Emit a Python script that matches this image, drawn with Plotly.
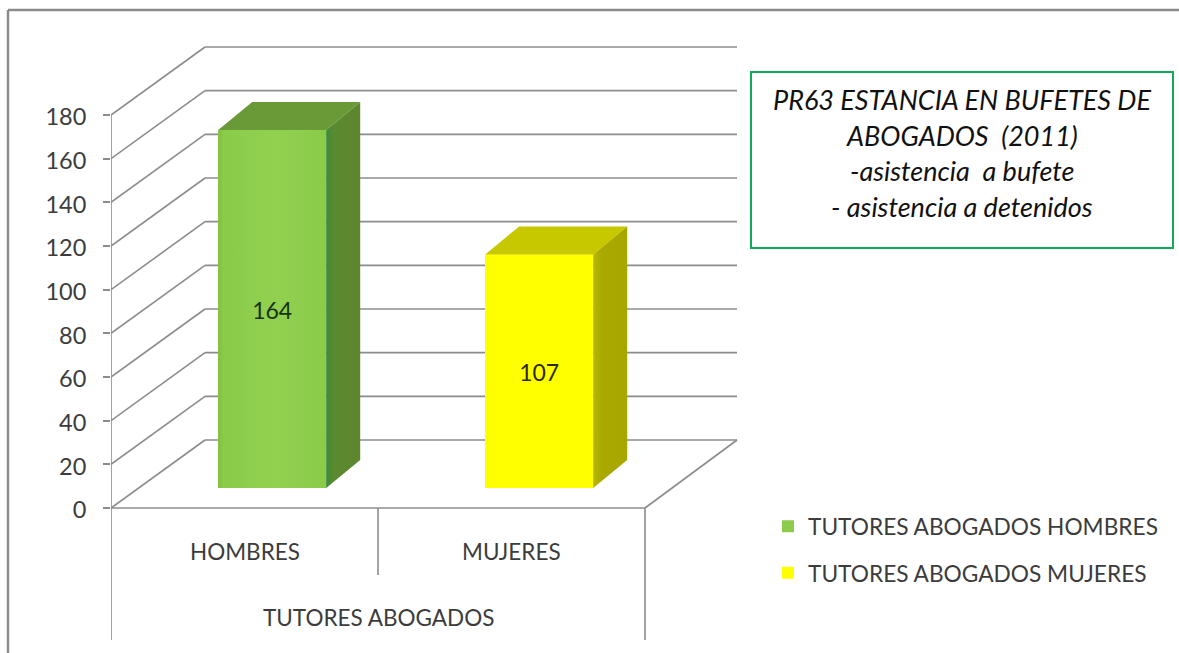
import plotly.graph_objects as go

# Data
categories = ["HOMBRES", "MUJERES"]
group_label = "TUTORES ABOGADOS"
series_names = ["TUTORES ABOGADOS HOMBRES", "TUTORES ABOGADOS MUJERES"]
values = [164, 107]
y_ticks = [0, 20, 40, 60, 80, 100, 120, 140, 160, 180]
title_lines = ["PR63 ESTANCIA EN BUFETES DE", "ABOGADOS  (2011)", "-asistencia  a bufete", "- asistencia a detenidos"]

# Style
W, H = 1179, 653
FONT = "Lato"
TXT = "#3c3c3c"
GRID = "#8c8c8c"
front_colors = ["#8DCB4C", "#FFFF00"]
top_colors = ["#6A9A38", "#C8C800"]
label_colors = ["#17330c", "#2a2a00"]
side_grads = [[[0, "#3F8A38"], [0.25, "#5B8A30"], [1, "#5E862F"]],
              [[0, "#B8B800"], [0.25, "#A9A900"], [1, "#A6A600"]]]
front_grads = [[[0, "#7CC13E"], [0.05, "#8ACB4A"], [0.5, "#92D050"], [1, "#8ACB4A"]],
               [[0, "#FFFF00"], [1, "#FFFF00"]]]

PX_X = 267.0            # pixels per category
PX_Y = 393.0 / 180.0    # pixels per value unit
ZERO_PY = 508.0
XMAX = (W - 111) / PX_X
YMIN = -(H - ZERO_PY) / PX_Y
YMAX = ZERO_PY / PX_Y

WALL_DX, WALL_DY = 94 / PX_X, 68 / PX_Y      # floor depth
FLOOR_DX, FLOOR_DY = 27.7 / PX_X, 20 / PX_Y  # bar front inset
BAR_DX, BAR_DY = 34 / PX_X, 28 / PX_Y        # bar depth
BAR_W = 108 / PX_X
WALL_END = (737 - 111) / PX_X
LABEL_NUDGE = 4 / PX_Y


def ln(x0, y0, x1, y1):
    return dict(type="line", xref="x", yref="y", x0=x0, y0=y0, x1=x1, y1=y1,
                layer="below", line=dict(color=GRID, width=1.6))


shapes = []
for v in y_ticks:
    shapes.append(ln(0, v, WALL_DX, v + WALL_DY))
    shapes.append(ln(WALL_DX, v + WALL_DY, WALL_END, v + WALL_DY))
shapes.append(ln(2, 0, WALL_END, WALL_DY))
shapes.append(ln(0, YMIN + 13 / PX_Y, 0, y_ticks[-1]))
shapes.append(ln(0, 0, 2, 0))
shapes.append(ln(1, 0, 1, -67 / PX_Y))
shapes.append(ln(2, 0, 2, YMIN + 13 / PX_Y))
# outer frame
for x0, y0, x1, y1 in [(8 / W, 1 - 10 / H, 1, 1 - 10 / H), (8 / W, 1 - 10 / H, 8 / W, 0)]:
    shapes.append(dict(type="line", xref="paper", yref="paper", x0=x0, y0=y0, x1=x1, y1=y1,
                       layer="below", line=dict(color="#8a8a8a", width=2.4)))
# title box
shapes.append(dict(type="rect", xref="paper", yref="paper", x0=751 / W, x1=1173 / W,
                   y0=1 - 248 / H, y1=1 - 72 / H, line=dict(color="#12A85A", width=2),
                   fillcolor="white", layer="above"))

fig = go.Figure()
for i, (cat, val, name) in enumerate(zip(categories, values, series_names)):
    xc = i + 0.5 + FLOOR_DX
    x0, x1 = xc - BAR_W / 2, xc + BAR_W / 2
    b = FLOOR_DY
    t = b + val
    fig.add_trace(go.Bar(x=[xc], y=[val], base=[b], width=[BAR_W], name=name,
                         legendgroup=name, marker=dict(color=front_colors[i], line=dict(width=0)),
                         hoverinfo="skip"))
    # front shading
    fig.add_trace(go.Scatter(x=[x0, x1, x1, x0, x0], y=[b, b, t, t, b], mode="none", fill="toself",
                             fillgradient=dict(type="horizontal", colorscale=front_grads[i]),
                             showlegend=False, hoverinfo="skip"))
    # top face
    fig.add_trace(go.Scatter(x=[x0, x1, x1 + BAR_DX, x0 + BAR_DX, x0],
                             y=[t, t, t + BAR_DY, t + BAR_DY, t], mode="none", fill="toself",
                             fillcolor=top_colors[i], showlegend=False, hoverinfo="skip"))
    # side face
    fig.add_trace(go.Scatter(x=[x1, x1 + BAR_DX, x1 + BAR_DX, x1, x1],
                             y=[b, b + BAR_DY, t + BAR_DY, t, b], mode="none", fill="toself",
                             fillgradient=dict(type="horizontal", colorscale=side_grads[i]),
                             showlegend=False, hoverinfo="skip"))
    # value label
    fig.add_trace(go.Scatter(x=[xc], y=[b + val / 2 - LABEL_NUDGE], mode="text", text=[str(val)],
                             textposition="middle center",
                             textfont=dict(family=FONT, size=23, color=label_colors[i]),
                             showlegend=False, hoverinfo="skip"))

# category labels
annotations = []
for i, cat in enumerate(categories):
    annotations.append(dict(x=i + 0.5, y=-(551 - ZERO_PY) / PX_Y, xref="x", yref="y", text=cat,
                            xanchor="center", yanchor="middle", showarrow=False,
                            font=dict(family=FONT, size=22.5, color=TXT)))
annotations.append(dict(x=1, y=-(617 - ZERO_PY) / PX_Y, xref="x", yref="y", text=group_label,
                        xanchor="center", yanchor="middle", showarrow=False,
                        font=dict(family=FONT, size=22.5, color=TXT)))
for py, line in zip([100, 135, 171, 207], title_lines):
    annotations.append(dict(x=962 / W, y=1 - py / H, xref="paper", yref="paper", xanchor="center",
                            yanchor="middle", text="<i>" + line + "</i>", showarrow=False,
                            font=dict(family=FONT, size=27, color="#111111")))

fig.update_layout(
    width=W, height=H, margin=dict(l=0, r=0, t=0, b=0),
    paper_bgcolor="white", plot_bgcolor="rgba(0,0,0,0)",
    barmode="overlay", shapes=shapes, annotations=annotations,
    xaxis=dict(domain=[111 / W, 1], range=[0, XMAX], visible=False, fixedrange=True),
    yaxis=dict(domain=[0, 1], range=[YMIN, YMAX], tickmode="array", tickvals=y_ticks,
               ticks="outside", ticklen=7, tickcolor=GRID, tickwidth=1.6, showgrid=False,
               zeroline=False, showline=False, fixedrange=True, ticklabelstandoff=12,
               ticklabelshift=2,
               tickfont=dict(family=FONT, size=23.5, color=TXT)),
    legend=dict(x=768 / W, y=1 - 505 / H, xanchor="left", yanchor="top", tracegroupgap=14,
                bgcolor="rgba(0,0,0,0)", font=dict(family=FONT, size=22.7, color=TXT),
                itemwidth=30, traceorder="grouped"),
    showlegend=True,
)
fig.write_html("out.html", config={"displayModeBar": False},
               post_script="document.body.style.margin='0';document.body.style.overflow='hidden';")
